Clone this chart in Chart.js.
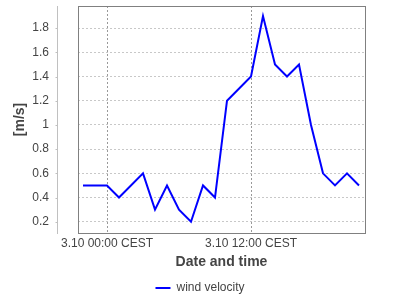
<!DOCTYPE html>
<html lang="en">
<head>
    <meta charset="UTF-8">
    <title>Wind velocity</title>
    <script src="https://cdn.jsdelivr.net/npm/chart.js"></script>
    <style>
        html, body { margin: 0; padding: 0; background: #fff; }
        #wrap { width: 400px; height: 300px; }
    </style>
</head>
<body>
<div id="wrap"><canvas id="myChart" width="400" height="300"></canvas></div>
<script>
    // hours relative to 3.10 00:00 CEST
    const hours = [-2, -1, 0, 1, 3, 4, 5, 6, 7, 8, 9, 10, 12, 13, 14, 15, 16, 17, 18, 19, 20, 21];
    const windVelocity = [0.5, 0.5, 0.5, 0.4, 0.6, 0.3, 0.5, 0.3, 0.2, 0.5, 0.4, 1.2, 1.4, 1.9, 1.5, 1.4, 1.5, 1.0, 0.6, 0.5, 0.6, 0.5];
    const xTickHours = [0, 12];
    const xTickLabels = ['3.10 00:00 CEST', '3.10 12:00 CEST'];
    const yTicks = [0.2, 0.4, 0.6, 0.8, 1.0, 1.2, 1.4, 1.6, 1.8];

    const points = hours.map((h, i) => ({x: h, y: windVelocity[i]}));
    const font = '"Liberation Sans", Arial, sans-serif';

    // plot frame + offset range axis (drawn by hand, chart.js has no axis offset)
    const framePlugin = {
        id: 'frame',
        afterDraw(chart) {
            const {ctx, chartArea: a} = chart;
            const ys = chart.scales.y;
            ctx.save();
            ctx.strokeStyle = '#808080';
            ctx.lineWidth = 1;
            ctx.strokeRect(a.left + 0.5, a.top + 0.5, a.right - a.left, a.bottom - a.top);
            const ax = a.left - 21 + 0.5;
            ctx.strokeStyle = '#c0c0c0';
            ctx.beginPath();
            ctx.moveTo(ax, a.top);
            ctx.lineTo(ax, a.bottom + 1);
            yTicks.forEach(v => {
                const py = Math.round(ys.getPixelForValue(v)) + 0.5;
                ctx.moveTo(ax - 2, py);
                ctx.lineTo(ax, py);
            });
            ctx.stroke();
            ctx.restore();
        }
    };

    new Chart(document.getElementById('myChart').getContext('2d'), {
        type: 'line',
        data: {
            datasets: [{
                label: 'wind velocity',
                data: points,
                borderColor: '#0000ff',
                backgroundColor: '#0000ff',
                borderWidth: 2,
                fill: false,
                tension: 0,
                pointRadius: 0,
                pointStyle: 'line'
            }]
        },
        options: {
            responsive: false,
            animation: false,
            layout: { padding: { top: 6, right: 0, bottom: -4, left: 0 } },
            plugins: {
                tooltip: { enabled: false },
                legend: {
                    position: 'bottom',
                    labels: {
                        usePointStyle: true,
                        pointStyleWidth: 15,
                        boxHeight: 12,
                        padding: 4,
                        color: '#444',
                        font: { family: font, size: 12 }
                    }
                }
            },
            scales: {
                x: {
                    type: 'linear',
                    min: -2.417,
                    max: 21.5,
                    afterFit: s => { s.height = 45; },
                    afterBuildTicks: s => { s.ticks = xTickHours.map(v => ({value: v})); },
                    ticks: {
                        autoSkip: false,
                        maxRotation: 0,
                        padding: 3,
                        color: '#444',
                        font: { family: font, size: 12 },
                        callback: v => xTickLabels[xTickHours.indexOf(v)]
                    },
                    grid: {
                        drawTicks: false,
                        color: '#999',
                        lineWidth: 1
                    },
                    border: { display: false, dash: [2, 2] },
                    title: {
                        display: true,
                        text: 'Date and time',
                        color: '#444',
                        padding: { top: 0, bottom: 7 },
                        font: { family: font, size: 14, weight: 'bold' }
                    }
                },
                y: {
                    min: 0.107,
                    max: 1.983,
                    afterFit: s => { s.width = 78; s.paddingTop = 0; s.paddingBottom = 0; },
                    afterBuildTicks: s => { s.ticks = yTicks.map(v => ({value: v})); },
                    ticks: {
                        padding: 1,
                        color: '#444',
                        font: { family: font, size: 12 },
                        callback: v => String(Number(v.toFixed(1)))
                    },
                    grid: {
                        drawTicks: true,
                        tickLength: 28,
                        tickColor: 'rgba(0,0,0,0)',
                        color: '#c8c8c8',
                        lineWidth: 1
                    },
                    border: { display: false, dash: [2, 2] },
                    title: {
                        display: true,
                        text: '[m/s]',
                        color: '#444',
                        padding: { top: 12, bottom: 0 },
                        font: { family: font, size: 14, weight: 'bold' }
                    }
                },
                // empty right gutter so the legend centres on the whole canvas
                gutter: {
                    type: 'linear',
                    position: 'right',
                    afterFit: s => { s.width = 35; s.paddingTop = 0; s.paddingBottom = 0; },
                    ticks: { display: false },
                    grid: { display: false },
                    border: { display: false }
                }
            }
        },
        plugins: [framePlugin]
    });
</script>
</body>
</html>
